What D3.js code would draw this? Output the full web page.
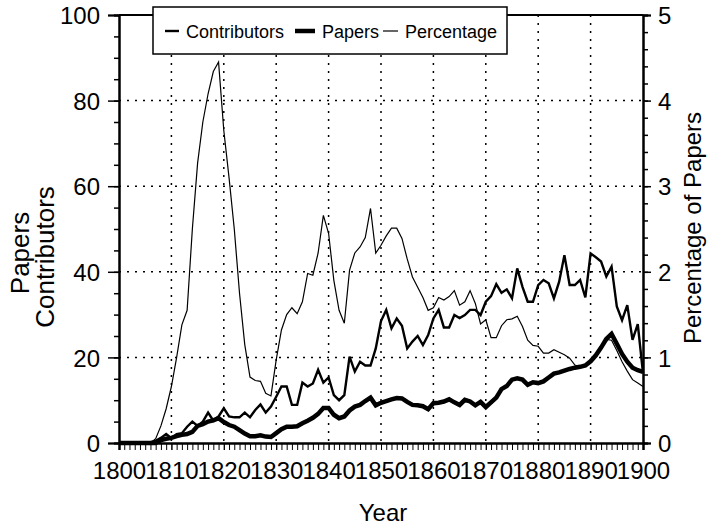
<!DOCTYPE html>
<html>
<head>
<meta charset="utf-8">
<script src="https://cdn.jsdelivr.net/npm/d3@7"></script>
<style>
    body { margin: 0; background: #fff; }
    svg { font-family: "Liberation Sans", Arial, Helvetica, sans-serif; }
    .grid line { stroke: #000; stroke-width: 1.5; stroke-dasharray: 2,6; }
</style>
</head>
<body>
<svg id="chart" width="707" height="527"></svg>
<script>
// Years 1800..1900, one value per year
var startYear = 1800;
var contributors = [
    0, 0, 0, 0, 0, 0, 0.2, 0.5, 1.2, 2.1,
    1.1, 2.1, 2.3, 3.8, 5.0, 4.0, 5.0, 7.1, 5.2, 6.2,
    8.1, 6.2, 6.0, 6.0, 7.1, 6.0, 7.7, 9.0, 7.1, 8.5,
    10.8, 13.2, 13.2, 8.9, 8.9, 14.1, 13.2, 13.9, 17.1, 14.1,
    15.3, 11.2, 10.0, 11.2, 20.2, 16.7, 19.0, 18.1, 18.1, 22.1,
    28.5, 31.1, 26.8, 29.1, 27.4, 22.1, 23.7, 25.0, 22.9, 25.2,
    29.1, 31.1, 27.0, 27.0, 29.9, 29.2, 29.9, 31.1, 31.1, 29.9,
    33.0, 34.3, 37.1, 35.1, 35.9, 33.8, 40.8, 36.5, 33.0, 33.0,
    36.9, 38.1, 37.3, 33.8, 37.7, 43.9, 36.9, 36.9, 38.1, 34.0,
    44.3, 43.4, 42.4, 38.9, 41.2, 31.9, 28.7, 32.2, 24.1, 27.8,
    16.3
];
var papers = [
    0, 0, 0, 0, 0, 0, 0, 0, 0.7, 1.0,
    1.2, 1.6, 1.9, 2.1, 2.6, 4.0, 4.4, 5.0, 5.3, 5.8,
    4.9, 4.2, 3.8, 3.0, 2.2, 1.6, 1.6, 1.8, 1.5, 1.4,
    2.3, 3.2, 3.8, 3.8, 3.9, 4.6, 5.2, 5.9, 6.8, 8.2,
    8.2, 6.6, 5.8, 6.2, 7.6, 8.5, 8.9, 9.8, 10.6, 8.8,
    9.4, 9.8, 10.2, 10.5, 10.4, 9.6, 8.9, 8.8, 8.6, 7.9,
    9.3, 9.4, 9.7, 10.2, 9.5, 8.9, 10.1, 9.7, 8.8, 9.6,
    8.4, 9.5, 10.6, 12.6, 13.3, 14.8, 15.1, 14.8, 13.6, 14.2,
    14.0, 14.4, 15.3, 16.2, 16.5, 16.9, 17.3, 17.6, 17.8, 18.1,
    19.1, 20.5, 22.3, 24.3, 25.5, 23.2, 20.8, 19.0, 17.6, 17.0,
    16.6
];
var percentage = [
    0, 0, 0, 0, 0, 0, 0, 0.05, 0.2, 0.4,
    0.66, 1.0, 1.38, 1.55, 2.5, 3.27, 3.75, 4.08, 4.34, 4.45,
    3.65, 3.1, 2.5, 1.75, 1.15, 0.77, 0.73, 0.72, 0.58, 0.55,
    0.97, 1.32, 1.5, 1.58, 1.51, 1.65, 1.98, 1.96, 2.22, 2.66,
    2.45, 1.9, 1.55, 1.4, 2.02, 2.22, 2.29, 2.4, 2.74, 2.22,
    2.31, 2.42, 2.51, 2.51, 2.39, 2.15, 1.94, 1.82, 1.70, 1.55,
    1.58, 1.70, 1.67, 1.71, 1.78, 1.61, 1.65, 1.78, 1.63, 1.39,
    1.44, 1.23, 1.23, 1.37, 1.44, 1.45, 1.48, 1.36, 1.2, 1.14,
    1.13, 1.05, 1.05, 1.09, 1.06, 1.03, 0.99, 0.91, 0.89, 0.905,
    0.95, 1.02, 1.11, 1.21, 1.2, 1.08, 0.95, 0.84, 0.74, 0.7,
    0.66
];
var xTicks = [1800, 1810, 1820, 1830, 1840, 1850, 1860, 1870, 1880, 1890, 1900];
var leftTicks = [0, 20, 40, 60, 80, 100];
var rightTicks = [0, 1, 2, 3, 4, 5];
var legendNames = ["Contributors", "Papers", "Percentage"];

var box = {left: 119, right: 643, top: 15, bottom: 443};
var svg = d3.select("#chart");

var x = d3.scaleLinear().domain([1800, 1900]).range([box.left, box.right]);
var yL = d3.scaleLinear().domain([0, 100]).range([box.bottom, box.top]);
var yR = d3.scaleLinear().domain([0, 5]).range([box.bottom, box.top]);

// dotted grid
var grid = svg.append("g").attr("class", "grid");
grid.selectAll(".vg").data(xTicks.slice(1, -1)).enter().append("line")
    .attr("x1", d => x(d)).attr("x2", d => x(d))
    .attr("y1", box.top).attr("y2", box.bottom);
grid.selectAll(".hg").data(leftTicks.slice(1, -1)).enter().append("line")
    .attr("x1", box.left).attr("x2", box.right)
    .attr("y1", d => yL(d)).attr("y2", d => yL(d));

// frame top line
svg.append("line").attr("x1", box.left).attr("x2", box.right)
    .attr("y1", box.top).attr("y2", box.top)
    .attr("stroke", "#000").attr("stroke-width", 2);

// axes: minor ticks are unlabeled, drawn with a second axis
function styleAxis(g) {
    g.select(".domain").attr("stroke-width", 2);
    g.selectAll(".tick line").attr("stroke-width", 1.5);
    g.selectAll("text").attr("font-size", 24).attr("fill", "#000");
}

svg.append("g").attr("transform", "translate(" + box.left + ",0)")
    .call(d3.axisLeft(yL).tickValues(d3.range(0, 101, 5)).tickSize(5).tickFormat(""))
    .call(styleAxis);
svg.append("g").attr("transform", "translate(" + box.left + ",0)")
    .call(d3.axisLeft(yL).tickValues(leftTicks).tickSize(11).tickPadding(8))
    .call(styleAxis)
    .call(g => g.selectAll("text").attr("dy", "0.36em"));

svg.append("g").attr("transform", "translate(" + box.right + ",0)")
    .call(d3.axisRight(yR).tickValues(d3.range(0, 26).map(i => i / 5)).tickSize(5).tickFormat(""))
    .call(styleAxis);
svg.append("g").attr("transform", "translate(" + box.right + ",0)")
    .call(d3.axisRight(yR).tickValues(rightTicks).tickSize(8).tickPadding(7).tickFormat(d3.format("d")))
    .call(styleAxis)
    .call(g => g.selectAll("text").attr("dy", "0.36em"));

svg.append("g").attr("transform", "translate(0," + box.bottom + ")")
    .call(d3.axisBottom(x).tickValues(d3.range(1800, 1901)).tickSize(7).tickFormat(""))
    .call(styleAxis)
    .call(g => g.selectAll(".tick line").attr("stroke-width", 1));
svg.append("g").attr("transform", "translate(0," + box.bottom + ")")
    .call(d3.axisBottom(x).tickValues(xTicks).tickSize(7).tickPadding(12).tickFormat(d3.format("d")))
    .call(styleAxis)
    .call(g => g.selectAll(".tick line").attr("stroke-width", 1));

// series
function lineFor(arr, scale) {
    return d3.line()
        .x((d, i) => x(startYear + i))
        .y(d => scale(d))(arr);
}
svg.append("path").attr("d", lineFor(percentage, yR))
    .attr("fill", "none").attr("stroke", "#000").attr("stroke-width", 1.2);
svg.append("path").attr("d", lineFor(contributors, yL))
    .attr("fill", "none").attr("stroke", "#000").attr("stroke-width", 2.4);
svg.append("path").attr("d", lineFor(papers, yL))
    .attr("fill", "none").attr("stroke", "#000").attr("stroke-width", 4.5);

// axis titles
svg.append("text").attr("transform", "translate(29,253) rotate(-90)")
    .attr("text-anchor", "middle").attr("font-size", 26).text("Papers");
svg.append("text").attr("transform", "translate(54,257) rotate(-90)")
    .attr("text-anchor", "middle").attr("font-size", 26).text("Contributors");
svg.append("text").attr("transform", "translate(701,228) rotate(-90)")
    .attr("text-anchor", "middle").attr("font-size", 24).text("Percentage of Papers");
svg.append("text").attr("x", 383).attr("y", 521)
    .attr("text-anchor", "middle").attr("font-size", 24).text("Year");

// legend
var legend = svg.append("g");
legend.append("rect").attr("x", 153).attr("y", 7).attr("width", 354).attr("height", 47)
    .attr("fill", "#fff").attr("stroke", "#000").attr("stroke-width", 1.5);
var legendX = [165, 295, 383];
var legendLen = [14, 20, 15];
var legendW = [2.4, 4.5, 1.2];
legendNames.forEach((name, i) => {
    legend.append("line")
        .attr("x1", legendX[i]).attr("x2", legendX[i] + legendLen[i])
        .attr("y1", 31).attr("y2", 31)
        .attr("stroke", "#000").attr("stroke-width", legendW[i]);
    legend.append("text")
        .attr("x", legendX[i] + legendLen[i] + 7).attr("y", 38)
        .attr("font-size", 18).text(name);
});
</script>
</body>
</html>
